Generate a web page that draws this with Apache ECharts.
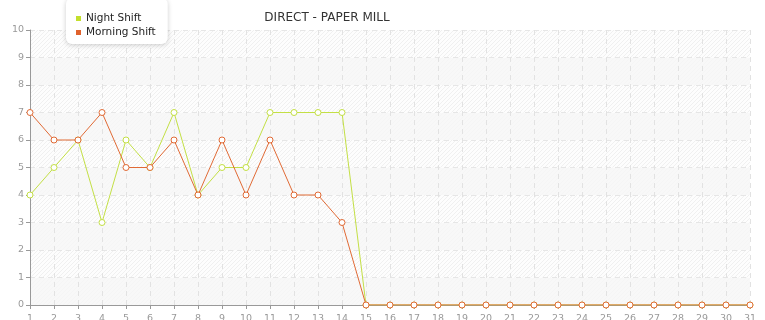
<!DOCTYPE html>
<html><head><meta charset="utf-8">
<script src="https://cdn.jsdelivr.net/npm/echarts@6/dist/echarts.min.js"></script>
<style>html,body{margin:0;padding:0;background:#fff}#c{width:765px;height:320px}</style>
</head><body><div id="c"></div>
<script>
const categories = Array.from({length:31},(_,i)=>String(i+1));
const nightShift = [4,5,6,3,6,5,7,4,5,5,7,7,7,7,0,0,0,0,0,0,0,0,0,0,0,0,0,0,0,0,0];
const morningShift = [7,6,6,7,5,5,6,4,6,4,6,4,4,3,0,0,0,0,0,0,0,0,0,0,0,0,0,0,0,0,0];

function hatch(bg, alpha){
  const s=4;
  const c=document.createElement('canvas');c.width=s;c.height=s;
  const g=c.getContext('2d');g.fillStyle=bg;g.fillRect(0,0,s,s);
  g.strokeStyle='rgba(0,0,0,'+alpha+')';g.lineWidth=1;
  g.beginPath();g.moveTo(0,s);g.lineTo(s,0);g.moveTo(-s,s);g.lineTo(s,-s);g.moveTo(0,2*s);g.lineTo(2*s,0);g.stroke();
  return {image:c,repeat:'repeat'};
}
const chart = echarts.init(document.getElementById('c'));
const ff = 'DejaVu Sans';
chart.setOption({
  animation:false,
  title:{text:'DIRECT - PAPER MILL',left:322,textAlign:'center',top:7,textStyle:{fontFamily:ff,fontSize:12,fontWeight:'normal',color:'#333'}},
  legend:{orient:'vertical',left:66,top:-2,padding:[15,12,6,10],itemGap:3,itemWidth:5,itemHeight:5,icon:'rect',
    backgroundColor:'#fff',borderRadius:6,shadowColor:'rgba(0,0,0,0.2)',shadowBlur:5,shadowOffsetY:1,
    textStyle:{fontFamily:ff,fontSize:10.5,color:'#222'},
    data:[{name:'Night Shift',itemStyle:{color:'#c3df2c',borderWidth:0}},{name:'Morning Shift',itemStyle:{color:'#e0622c',borderWidth:0}}]},
  grid:{left:30,right:15,top:30,bottom:15,containLabel:false,outerBoundsMode:'none'},
  xAxis:{type:'category',data:categories,boundaryGap:false,
    axisLine:{lineStyle:{color:'#999'}},axisTick:{show:true,length:4,lineStyle:{color:'#999'}},
    axisLabel:{fontFamily:ff,fontSize:9.5,color:'#999',margin:9,interval:0},
    splitLine:{show:true,lineStyle:{color:'#e2e2e2',type:[5,4]}}},
  yAxis:{type:'value',min:0,max:10,interval:1,
    axisLine:{show:true,lineStyle:{color:'#999'}},axisTick:{show:true,length:4,lineStyle:{color:'#999'}},
    axisLabel:{fontFamily:ff,fontSize:9.5,color:'#999',margin:6},
    splitLine:{show:true,lineStyle:{color:'#e6e6e6',type:[5,4]}},
    splitArea:{show:true,areaStyle:{color:[hatch('#f8f8f8',0.012),hatch('#fdfdfd',0.05)]}}},
  series:[
    {name:'Night Shift',type:'line',data:nightShift,symbol:'circle',symbolSize:6,z:2,
     itemStyle:{color:'#fff',borderColor:'#c3df45',borderWidth:1},lineStyle:{color:'#c3df45',width:1}},
    {name:'Morning Shift',type:'line',data:morningShift,symbol:'circle',symbolSize:6,z:3,
     itemStyle:{color:'#fff',borderColor:'#e06a35',borderWidth:1},lineStyle:{color:'#e06a35',width:1}}
  ]
});
</script></body></html>
